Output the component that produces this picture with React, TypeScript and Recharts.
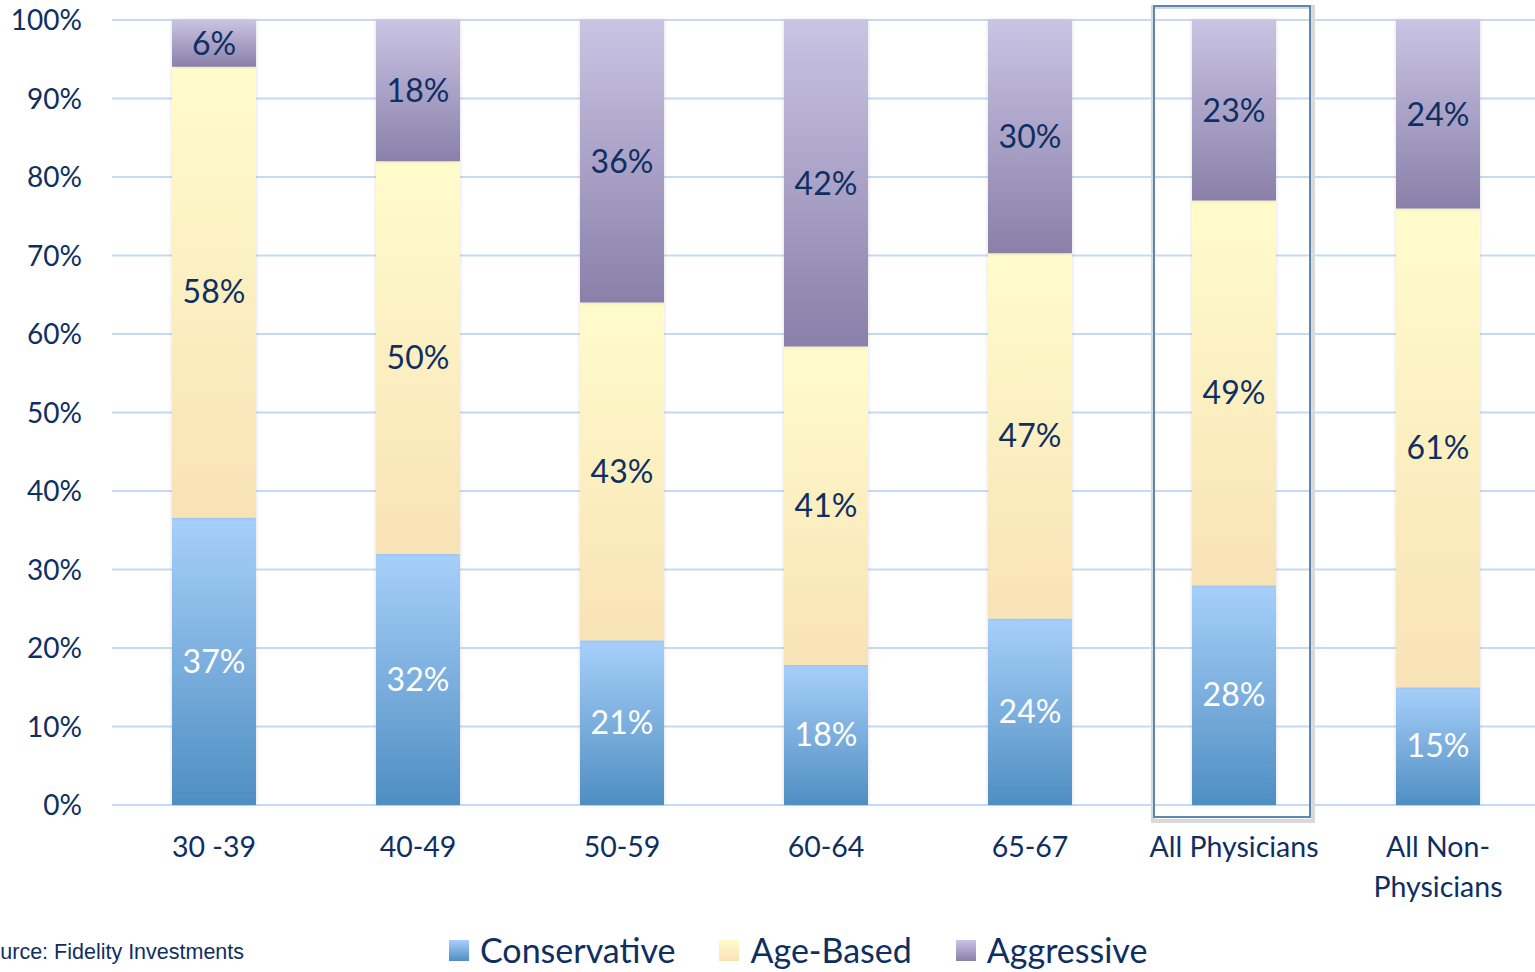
import React from 'react';
import { BarChart, Bar, XAxis, YAxis, CartesianGrid, LabelList, Legend, ReferenceArea } from 'recharts';

const categories = ['30 -39', '40-49', '50-59', '60-64', '65-67', 'All Physicians', 'All Non-Physicians'];
const conservative = [37, 32, 21, 18, 24, 28, 15];
const ageBased = [58, 50, 43, 41, 47, 49, 61];
const aggressive = [6, 18, 36, 42, 30, 23, 24];
const yTicks = [0, 0.1, 0.2, 0.3, 0.4, 0.5, 0.6, 0.7, 0.8, 0.9, 1];
const highlighted = 'All Physicians';
const sourceText = 'Source: Fidelity Investments';

const series = [
  { key: 'conservative', name: 'Conservative', grad: 'gCons', top: '#a7d0fa', bottom: '#4f8ec2', label: '#ffffff' },
  { key: 'ageBased', name: 'Age-Based', grad: 'gAge', top: '#fffccb', bottom: '#f8e2b6', label: '#0f2f62' },
  { key: 'aggressive', name: 'Aggressive', grad: 'gAgg', top: '#c9c4e4', bottom: '#8a80a9', label: '#0f2f62' },
];

const data = categories.map((c, i) => ({
  name: c,
  conservative: conservative[i],
  ageBased: ageBased[i],
  aggressive: aggressive[i],
}));

const FONT = 'Lato, "Noto Sans", sans-serif';
const NAVY = '#0f2f62';

const YTick = (props: any) => {
  const { x, y, payload } = props;
  return (
    <text x={x} y={y} dy={10} textAnchor="end" fontSize={28} fill={NAVY} fontFamily={FONT}>
      {`${Math.round(payload.value * 100)}%`}
    </text>
  );
};

const XTick = (props: any) => {
  const { x, y, payload } = props;
  const label: string = payload.value;
  const lines = label.length > 15 && label.includes('-') ? label.replace(/-(?=\S)/, '-\n').split('\n') : [label];
  return (
    <g>
      {lines.map((l, i) => (
        <text key={i} x={x} y={y + 50 + i * 40} textAnchor="middle" fontSize={28.5} fill={NAVY} fontFamily={FONT}>
          {l}
        </text>
      ))}
    </g>
  );
};

const HighlightBox = (props: any) => {
  const { x, y, width, height } = props;
  const bx = x + 22;
  const bw = width - 48;
  const by = y - 14;
  const bh = height + 26;
  return (
    <g>
      <rect x={bx - 1} y={by + 1} width={bw + 4} height={bh + 3} fill="none" stroke="#d9d9d9" strokeWidth={4} />
      <rect x={bx} y={by} width={bw} height={bh} fill="none" stroke="#5b87b0" strokeWidth={2} />
    </g>
  );
};

const LegendContent = () => (
  <div style={{ position: 'relative', width: 1535, height: 50, boxSizing: 'border-box', paddingTop: 20, fontFamily: FONT }}>
    <div style={{ position: 'absolute', left: -26, top: 25, fontFamily: 'Arial, "Liberation Sans", sans-serif', fontSize: 21.5, color: NAVY, whiteSpace: 'nowrap' }}>
      {sourceText}
    </div>
    <div style={{ display: 'flex', alignItems: 'center', paddingLeft: 449, height: 30 }}>
      {series.map((s) => (
        <div key={s.key} style={{ display: 'flex', alignItems: 'center', marginRight: 44 }}>
          <div style={{ width: 20, height: 21, background: `linear-gradient(${s.top}, ${s.bottom})`, marginRight: 11 }} />
          <span style={{ fontSize: 34, color: NAVY, lineHeight: '30px' }}>{s.name}</span>
        </div>
      ))}
    </div>
  </div>
);

export default function App() {
  return (
    <div style={{ position: 'absolute', left: 0, top: 0, width: 1535, height: 972, background: '#fff', overflow: 'hidden' }}>
      <BarChart
        width={1535}
        height={972}
        data={data}
        stackOffset="expand"
        margin={{ top: 20, right: -5, left: 0, bottom: 7 }}
        barCategoryGap={0}
      >
        <defs>
          {series.map((s) => (
            <linearGradient key={s.grad} id={s.grad} x1="0" y1="0" x2="0" y2="1">
              <stop offset="0%" stopColor={s.top} />
              <stop offset="100%" stopColor={s.bottom} />
            </linearGradient>
          ))}
          <filter id="barShadow" x="-20%" y="-5%" width="140%" height="110%">
            <feDropShadow dx="0" dy="0" stdDeviation="2" floodColor="#000" floodOpacity="0.13" />
          </filter>
        </defs>
        <CartesianGrid vertical={false} stroke="#c6dbf3" strokeWidth={2} />
        <XAxis
          dataKey="name"
          axisLine={false}
          tickLine={false}
          tickSize={0}
          height={110}
          interval={0}
          tick={<XTick />}
        />
        <YAxis
          width={112}
          axisLine={false}
          tickLine={false}
          tickSize={0}
          tickMargin={30}
          ticks={yTicks}
          domain={[0, 1]}
          tick={<YTick />}
        />
        <ReferenceArea x1={highlighted} x2={highlighted} ifOverflow="visible" shape={<HighlightBox />} />
        {series.map((s) => (
          <Bar
            key={s.key}
            dataKey={s.key}
            name={s.name}
            stackId="a"
            barSize={84}
            fill={`url(#${s.grad})`}
            filter="url(#barShadow)"
            isAnimationActive={false}
          >
            <LabelList
              dataKey={s.key}
              position="center"
              formatter={(v: any) => `${v}%`}
              fill={s.label}
              fontSize={32}
              fontFamily={FONT}
            />
          </Bar>
        ))}
        <Legend verticalAlign="bottom" content={<LegendContent />} wrapperStyle={{ left: 0, width: 1535 }} />
      </BarChart>
    </div>
  );
}
